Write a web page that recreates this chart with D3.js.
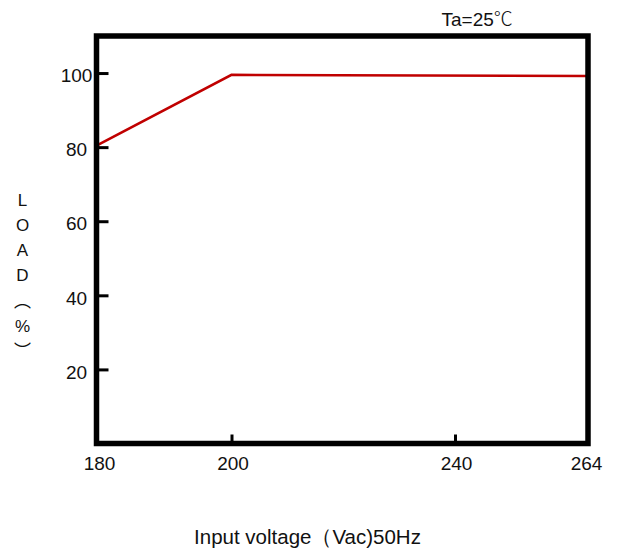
<!DOCTYPE html>
<html>
<head>
<meta charset="utf-8">
<script src="https://cdn.jsdelivr.net/npm/d3@7/dist/d3.min.js"></script>
<style>
  body { margin: 0; background: #fff; }
  text { font-family: "Liberation Sans", Arial, sans-serif; fill: #111; }
</style>
</head>
<body>
<div id="chart"></div>
<script>
// data
const voltage = [180, 200, 264];
const load = [80.4, 99.5, 99.2];
const xTicks = [180, 200, 240, 264];
const yTicks = [20, 40, 60, 80, 100];
const yLabelChars = ["L", "O", "A", "D", "\uFE35", "%", "\uFE36"];

const width = 617, height = 551;

const svg = d3.select("#chart").append("svg")
    .attr("width", width)
    .attr("height", height);

// the x axis is not uniform in the original, so map it piecewise
const x = d3.scaleLinear()
    .domain([180, 200, 240, 264])
    .range([96.5, 231.5, 455, 588]);

const y = d3.scaleLinear()
    .domain([0, 110])
    .range([443.5, 36]);

// y axis ticks (inward), labels centred in a column left of the frame
const yAxis = svg.append("g")
    .attr("transform", `translate(${x(180)},0)`)
    .call(d3.axisLeft(y).tickValues(yTicks).tickSizeInner(-12).tickSizeOuter(0).tickPadding(20));
yAxis.select(".domain").remove();
yAxis.selectAll("line").attr("stroke", "#000").attr("stroke-width", 3);
yAxis.selectAll("text")
    .style("font-size", "19px")
    .attr("text-anchor", "middle")
    .attr("dy", "0.46em")
    .attr("fill", "#111");

// x axis ticks (inward)
const xAxis = svg.append("g")
    .attr("transform", `translate(0,${y(0)})`)
    .call(d3.axisBottom(x).tickValues(xTicks).tickSizeInner(-9).tickSizeOuter(0).tickPadding(13.5));
xAxis.select(".domain").remove();
xAxis.selectAll("line").attr("stroke", "#000").attr("stroke-width", 3);
xAxis.selectAll("text")
    .style("font-size", "19px")
    .attr("fill", "#111");
// the end labels sit slightly inside the frame corners
xAxis.selectAll(".tick text")
    .attr("x", d => d === 180 ? 2.5 : d === 264 ? -2 : 1);

// data line
const line = d3.line()
    .x((d, i) => x(voltage[i]))
    .y(d => y(d));

svg.append("path")
    .datum(load)
    .attr("d", line)
    .attr("fill", "none")
    .attr("stroke", "#c00000")
    .attr("stroke-width", 2.6);

// frame
svg.append("rect")
    .attr("x", x(180))
    .attr("y", y(110))
    .attr("width", x(264) - x(180))
    .attr("height", y(0) - y(110))
    .attr("fill", "none")
    .attr("stroke", "#000")
    .attr("stroke-width", 5.5);

// title
const title = svg.append("text")
    .attr("x", 441.5)
    .attr("y", 26)
    .style("font-size", "19px");
title.append("tspan").text("Ta=25");
title.append("tspan")
    .style("font-family", "'Noto Sans CJK SC', sans-serif")
    .style("font-weight", 300)
    .text("℃");

// x label
svg.append("text")
    .attr("x", 307.5)
    .attr("y", 544)
    .attr("text-anchor", "middle")
    .style("font-size", "20.5px")
    .text("Input voltage（Vac)50Hz");

// y label, stacked vertically
const yLabel = svg.append("text")
    .attr("text-anchor", "middle")
    .style("font-size", "17px");
yLabel.selectAll("tspan")
    .data(yLabelChars)
    .enter().append("tspan")
    .attr("x", 22.5)
    .attr("y", (d, i) => 205.5 + i * 25.3)
    .style("font-family", d => d.charCodeAt(0) > 0xFE00 ? "'Noto Sans CJK SC', sans-serif" : null)
    .text(d => d);
</script>
</body>
</html>
